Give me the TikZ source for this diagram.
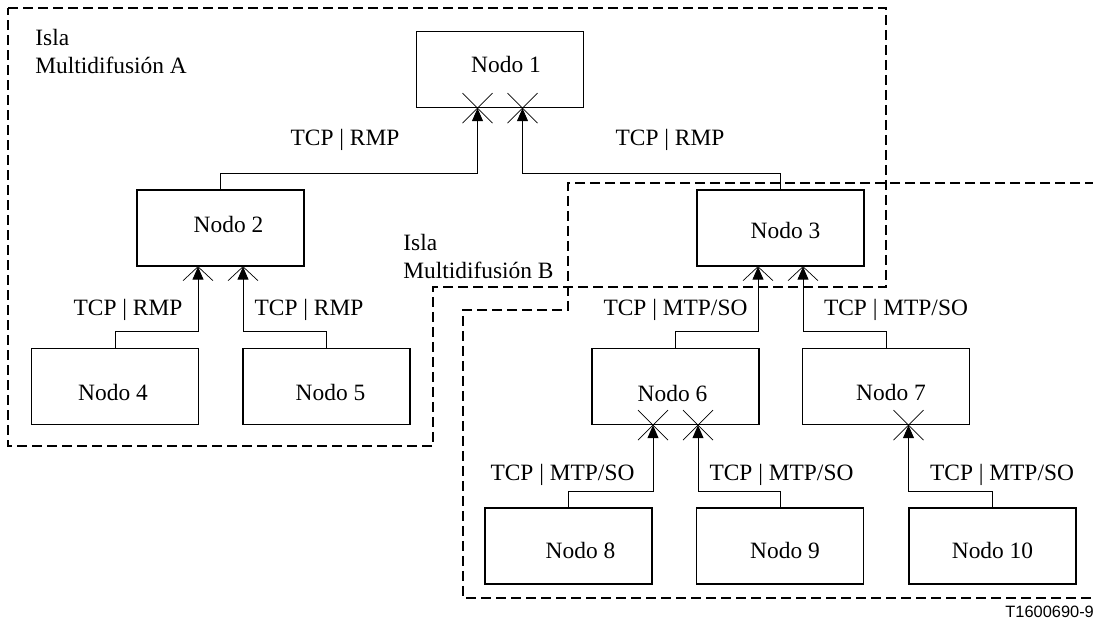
\documentclass[tikz,border=0pt]{standalone}
\usepackage{fontspec}
\setmainfont{Liberation Serif}
\newfontfamily\tagfont{Liberation Sans}
\usetikzlibrary{arrows.meta,calc}
\begin{document}
\begin{tikzpicture}[x=0.5pt,y=-0.5pt,
  box/.style={draw, line width=0.7pt, minimum width=83.5pt, minimum height=38pt, inner sep=0pt},
  txt/.style={font=\fontsize{11.7}{14}\selectfont, inner sep=0pt},
  link/.style={draw, line width=0.5pt, -{Triangle[length=6.5pt,width=5.5pt]}},
  xmark/.style={draw, line width=0.35pt},
  island/.style={draw, line width=1pt, dash pattern=on 5pt off 2.5pt},
]
\useasboundingbox (0,0) rectangle (1093,619);

% multicast islands
\draw[island] (8,8) -- (886,8) -- (886,287) -- (433,287) -- (433,446) -- (8,446) -- cycle;
\draw[island] (1110,183) -- (568,183) -- (568,310) -- (463,310) -- (463,598) -- (1110,598);

\node[txt, anchor=west, align=left] (islaA) at (35,51.5) {Isla\\Multidifusión A};
\node[txt, anchor=west, align=left] (islaB) at (403,257) {Isla\\Multidifusión B};

% nodes
\node[box, label={[txt,xshift=3pt,yshift=2.5pt]center:Nodo 1}] (n1) at (500,69.5) {};
\node[box, label={[txt,xshift=4pt,yshift=1.5pt]center:Nodo 2}] (n2) at (220.5,228) {};
\node[box, label={[txt,xshift=2.5pt,yshift=-1.5pt]center:Nodo 3}] (n3) at (780.5,228) {};
\node[box, label={[txt,xshift=-1pt,yshift=-3pt]center:Nodo 4}] (n4) at (115,386.5) {};
\node[box, label={[txt,xshift=2pt,yshift=-3pt]center:Nodo 5}] (n5) at (326.5,386.5) {};
\node[box, label={[txt,xshift=-1.5pt,yshift=-3.5pt]center:Nodo 6}] (n6) at (675.5,386.5) {};
\node[box, label={[txt,xshift=2.5pt,yshift=-3pt]center:Nodo 7}] (n7) at (886,386.5) {};
\node[box, label={[txt,xshift=6pt,yshift=-2pt]center:Nodo 8}] (n8) at (568.5,546) {};
\node[box, label={[txt,xshift=2.5pt,yshift=-2pt]center:Nodo 9}] (n9) at (780,546) {};
\node[box, label={[txt,yshift=-2pt]center:Nodo 10}] (n10) at (992.5,546) {};

% ports on the lower edges
\coordinate (n1l) at ($(n1.south)+(-22.5,0)$);
\coordinate (n1r) at ($(n1.south)+(22.5,0)$);
\coordinate (n2l) at ($(n2.south)+(-22.5,0)$);
\coordinate (n2r) at ($(n2.south)+(22.5,0)$);
\coordinate (n3l) at ($(n3.south)+(-22.5,0)$);
\coordinate (n3r) at ($(n3.south)+(22.5,0)$);
\coordinate (n6l) at ($(n6.south)+(-22.5,0)$);
\coordinate (n6r) at ($(n6.south)+(22.5,0)$);
\coordinate (n7p) at ($(n7.south)+(22.5,0)$);

% connectors
\draw[link] (n2.north) -- ++(0,-16) -| (n1l);
\draw[link] (n3.north) -- ++(0,-16) -| (n1r);
\draw[link] (n4.north) -- ++(0,-16) -| (n2l);
\draw[link] (n5.north) -- ++(0,-16) -| (n2r);
\draw[link] (n6.north) -- ++(0,-16) -| (n3l);
\draw[link] (n7.north) -- ++(0,-16) -| (n3r);
\draw[link] (n8.north) -- ++(0,-16) -| (n6l);
\draw[link] (n9.north) -- ++(0,-16) -| (n6r);
\draw[link] (n10.north) -- ++(0,-16) -| (n7p);

% crossed ports
\foreach \p in {n1l,n1r,n6l,n6r,n7p}{
  \draw[xmark] ($(\p)+(-15,-15)$) -- ($(\p)+(15,15)$);
  \draw[xmark] ($(\p)+(-15,15)$) -- ($(\p)+(15,-15)$);
}
% half-crossed ports
\foreach \p in {n2l,n2r,n3l,n3r}{
  \draw[xmark] ($(\p)+(-15,14)$) -- (\p) -- ($(\p)+(15,14)$);
}

% protocol labels
\node[txt] (l1a) at (345,140) {TCP | RMP};
\node[txt] (l1b) at (670,140) {TCP | RMP};
\node[txt] (l2a) at (128,309.5) {TCP | RMP};
\node[txt] (l2b) at (309,309.5) {TCP | RMP};
\node[txt] (l3a) at (675.5,309.5) {TCP | MTP/SO};
\node[txt] (l3b) at (896,309.5) {TCP | MTP/SO};
\node[txt] (l6a) at (562.5,474.5) {TCP | MTP/SO};
\node[txt] (l6b) at (781.5,474.5) {TCP | MTP/SO};
\node[txt] (l7) at (1002,474.5) {TCP | MTP/SO};

\node[anchor=west, inner sep=0pt, font=\tagfont\fontsize{8.2}{10}\selectfont] (tag) at (1005,612) {T1600690-97};
\end{tikzpicture}
\end{document}
